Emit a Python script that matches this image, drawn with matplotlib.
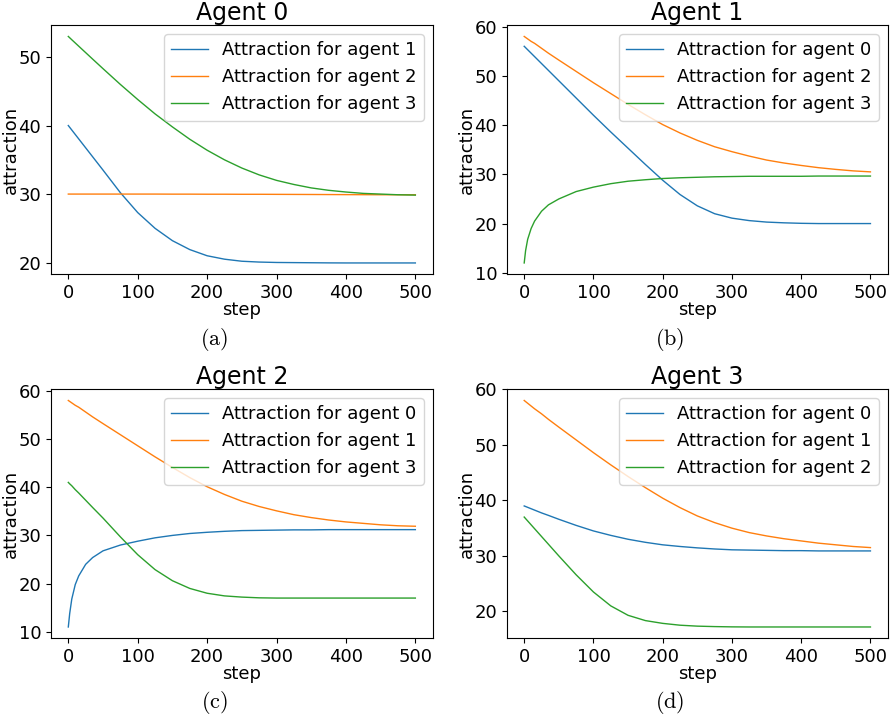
import matplotlib
matplotlib.use("Agg")
import matplotlib.pyplot as plt

plt.rcParams['mathtext.fontset'] = 'cm'

steps = [0, 2, 5, 10, 15, 25, 35, 50, 75, 100, 125, 150, 175, 200, 225, 250,
         275, 300, 325, 350, 375, 400, 425, 450, 475, 500]

# Agent 0
a0_for1 = [40.0, 39.74, 39.35, 38.7, 38.05, 36.75, 35.45, 33.5, 30.2, 27.3, 25.0, 23.2, 21.9,
           21.0, 20.5, 20.2, 20.08, 20.02, 20.0, 19.98, 19.96, 19.95, 19.95, 19.95, 19.95, 19.95]
a0_for2 = [30.0, 30.0, 30.0, 30.0, 30.0, 30.0, 30.0, 30.0, 30.0, 30.0, 30.0, 29.99, 29.99,
           29.98, 29.98, 29.97, 29.97, 29.96, 29.95, 29.94, 29.93, 29.92, 29.91, 29.9, 29.9, 29.9]
a0_for3 = [53.0, 52.81, 52.52, 52.05, 51.58, 50.64, 49.7, 48.3, 46.0, 43.8, 41.7, 39.8, 38.0,
           36.4, 35.0, 33.8, 32.8, 32.0, 31.4, 30.9, 30.55, 30.3, 30.1, 30.0, 29.9, 29.85]

# Agent 1
a1_for0 = [56.0, 55.72, 55.3, 54.6, 53.9, 52.5, 51.1, 49.0, 45.5, 42.0, 38.6, 35.3, 32.0,
           28.8, 25.9, 23.6, 22.0, 21.1, 20.6, 20.3, 20.15, 20.05, 20.0, 20.0, 20.0, 20.0]
a1_for2 = [58.0, 57.8, 57.5, 57.0, 56.6, 55.6, 54.6, 53.2, 50.9, 48.6, 46.4, 44.2, 42.1,
           40.1, 38.4, 36.9, 35.6, 34.6, 33.7, 32.9, 32.3, 31.8, 31.35, 31.0, 30.7, 30.5]
a1_for3 = [12.0, 14.5, 16.8, 19.0, 20.5, 22.5, 23.8, 25.0, 26.5, 27.4, 28.1, 28.6, 28.9,
           29.15, 29.3, 29.4, 29.5, 29.55, 29.6, 29.6, 29.6, 29.6, 29.65, 29.65, 29.65, 29.65]

# Agent 2
a2_for0 = [11.0, 13.8, 16.8, 19.8, 21.6, 24.0, 25.4, 26.8, 28.0, 28.8, 29.5, 30.0, 30.4,
           30.65, 30.85, 31.0, 31.05, 31.1, 31.15, 31.15, 31.2, 31.2, 31.2, 31.2, 31.2, 31.2]
a2_for1 = [58.0, 57.8, 57.5, 57.0, 56.6, 55.6, 54.6, 53.2, 50.9, 48.6, 46.3, 44.1, 42.0,
           40.1, 38.5, 37.1, 36.0, 35.1, 34.3, 33.7, 33.2, 32.8, 32.5, 32.2, 32.0, 31.9]
a2_for3 = [41.0, 40.7, 40.3, 39.5, 38.8, 37.3, 35.8, 33.6, 29.7, 26.0, 22.9, 20.6, 19.0,
           18.0, 17.45, 17.2, 17.05, 17.0, 17.0, 17.0, 17.0, 17.0, 17.0, 17.0, 17.0, 17.0]

# Agent 3
a3_for0 = [39.0, 38.9, 38.75, 38.5, 38.25, 37.75, 37.3, 36.6, 35.5, 34.5, 33.7, 33.0, 32.45,
           32.0, 31.7, 31.45, 31.25, 31.1, 31.05, 31.0, 30.95, 30.95, 30.9, 30.9, 30.9, 30.9]
a3_for1 = [58.0, 57.8, 57.5, 57.0, 56.5, 55.6, 54.6, 53.2, 50.9, 48.6, 46.4, 44.3, 42.3,
           40.4, 38.7, 37.2, 36.0, 35.0, 34.2, 33.6, 33.1, 32.7, 32.3, 32.0, 31.7, 31.5]
a3_for2 = [37.0, 36.72, 36.3, 35.6, 34.9, 33.5, 32.1, 30.0, 26.6, 23.5, 21.0, 19.3, 18.35,
           17.85, 17.52, 17.35, 17.27, 17.22, 17.2, 17.2, 17.2, 17.2, 17.2, 17.2, 17.2, 17.2]

titles = ["Agent 0", "Agent 1", "Agent 2", "Agent 3"]
series = [[a0_for1, a0_for2, a0_for3],
          [a1_for0, a1_for2, a1_for3],
          [a2_for0, a2_for1, a2_for3],
          [a3_for0, a3_for1, a3_for2]]
labels = [["Attraction for agent 1", "Attraction for agent 2", "Attraction for agent 3"],
          ["Attraction for agent 0", "Attraction for agent 2", "Attraction for agent 3"],
          ["Attraction for agent 0", "Attraction for agent 1", "Attraction for agent 3"],
          ["Attraction for agent 0", "Attraction for agent 1", "Attraction for agent 2"]]
captions = ["(a)", "(b)", "(c)", "(d)"]

fig = plt.figure(figsize=(8.94, 7.18), dpi=100)

# axes boxes in figure fractions (left, bottom, width, height)
boxes = [[0.057, 0.618, 0.427, 0.347],
         [0.567, 0.618, 0.426, 0.347],
         [0.057, 0.111, 0.427, 0.347],
         [0.567, 0.111, 0.426, 0.347]]
cap_pos = [[0.240, 0.527], [0.749, 0.527], [0.240, 0.021], [0.749, 0.021]]

for i in range(4):
    ax = fig.add_axes(boxes[i])
    for ys, lab in zip(series[i], labels[i]):
        ax.plot(steps, ys, linewidth=1.0, label=lab)
    ax.set_title(titles[i], fontsize=17, pad=2)
    ax.set_xlabel("step", fontsize=13, labelpad=-1)
    ax.set_ylabel("attraction", fontsize=13)
    ax.yaxis.set_label_coords(-0.081, 0.5)
    ax.tick_params(labelsize=13)
    ax.set_xticks([0, 100, 200, 300, 400, 500])
    ax.legend(loc="upper right", fontsize=13)
    fig.text(cap_pos[i][0], cap_pos[i][1], r"$\mathrm{%s}$" % captions[i],
             fontsize=16, ha="center", va="center")

plt.savefig("out.png", dpi=100)
